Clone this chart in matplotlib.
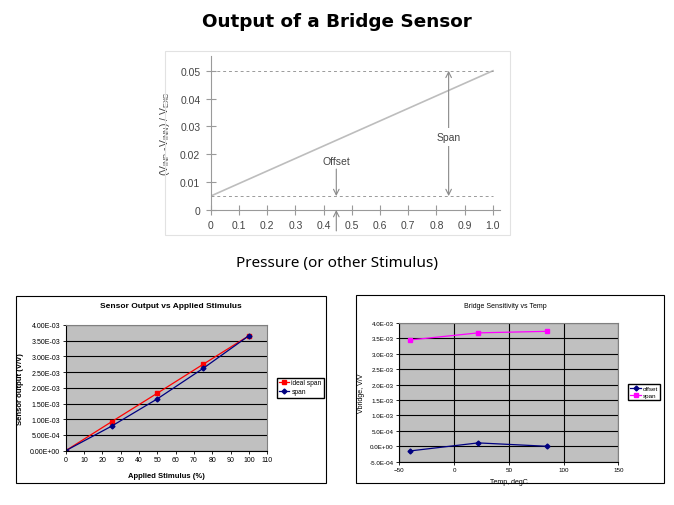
import matplotlib.pyplot as plt
from matplotlib.patches import Rectangle

W, H = 674, 506

# top schematic: normalised bridge output vs stimulus
stim_x = [0.0, 1.0]
stim_y = [0.005, 0.05]
offset_level = 0.005
full_scale = 0.05
top_xticks = [0, 0.1, 0.2, 0.3, 0.4, 0.5, 0.6, 0.7, 0.8, 0.9, 1.0]
top_xlabels = ['0', '0.1', '0.2', '0.3', '0.4', '0.5', '0.6', '0.7', '0.8', '0.9', '1.0']
top_yticks = [0, 0.01, 0.02, 0.03, 0.04, 0.05]
top_ylabels = ['0', '0.01', '0.02', '0.03', '0.04', '0.05']

# bottom left: sensor output vs applied stimulus
applied = [0, 25, 50, 75, 100]
ideal_span = [0.0, 9.2e-4, 1.83e-3, 2.75e-3, 3.66e-3]
real_span = [0.0, 7.8e-4, 1.65e-3, 2.62e-3, 3.66e-3]

# bottom right: bridge sensitivity vs temperature
temp = [-40, 22, 85]
offset_t = [-1.5e-4, 1.1e-4, 0.0]
span_t = [3.45e-3, 3.68e-3, 3.73e-3]


def px_axes(fig, x0, y0, x1, y1):
    """Add axes given pixel box (top-left origin)"""
    return fig.add_axes([x0 / W, 1 - y1 / H, (x1 - x0) / W, (y1 - y0) / H])


def px_rect(fig, x0, y0, x1, y1, color, lw):
    fig.patches.append(Rectangle((x0 / W, 1 - y1 / H), (x1 - x0) / W, (y1 - y0) / H,
                                 transform=fig.transFigure, fill=False,
                                 edgecolor=color, linewidth=lw))


plt.rcParams['font.family'] = ['Liberation Sans', 'DejaVu Sans']
plt.rcParams['mathtext.fontset'] = 'custom'
plt.rcParams['mathtext.rm'] = 'Liberation Sans'
plt.rcParams['mathtext.default'] = 'rm'
fig = plt.figure(figsize=(W / 100, H / 100), dpi=100)
fig.patch.set_facecolor('white')

fig.text(0.5, 1 - 22 / H, 'Output of a Bridge Sensor', ha='center', va='center',
         fontsize=13.2, fontweight='bold', family='DejaVu Sans')
fig.text(0.5, 1 - 263 / H, 'Pressure (or other Stimulus)', ha='center', va='center',
         fontsize=11, family='Noto Sans')

# ---- top schematic ----
px_rect(fig, 165, 52, 510, 236, '#e2e2e2', 0.8)
ax = px_axes(fig, 210.7, 57, 500, 211)
gray = '#9a9a9a'
ax.plot(stim_x, stim_y, color='#bdbdbd', lw=1.2)
ax.plot([0, 1.0], [full_scale, full_scale], color=gray, lw=0.7, ls=(0, (3, 3)))
ax.plot([0, 1.0], [offset_level, offset_level], color=gray, lw=0.7, ls=(0, (3, 3)))
arrow = dict(arrowstyle='->', color='#8a8a8a', lw=0.8, shrinkA=0, shrinkB=0)
ax.annotate('', xy=(0.445, offset_level), xytext=(0.445, 0.0147), arrowprops=arrow)
ax.annotate('', xy=(0.445, 0), xytext=(0.445, -0.0075), arrowprops=arrow,
            annotation_clip=False)
ax.text(0.445, 0.0177, 'Offset', ha='center', va='center', fontsize=7.5, color='#444')
ax.annotate('', xy=(0.843, full_scale), xytext=(0.843, offset_level),
            arrowprops=dict(arrowstyle='<->', color='#8a8a8a', lw=0.8, shrinkA=0, shrinkB=0))
ax.text(0.843, 0.0263, 'Span', ha='center', va='center', fontsize=7.5, color='#444',
        bbox=dict(facecolor='white', edgecolor='none', pad=3))
ax.set_xlim(0, 1.025)
ax.set_ylim(0, 0.0553)
ax.set_xticks(top_xticks, top_xlabels)
ax.set_yticks(top_yticks, top_ylabels)
ax.tick_params(direction='inout', length=7, width=0.8, color=gray,
               labelsize=7.5, labelcolor='#444', pad=4)
for s in ['top', 'right']:
    ax.spines[s].set_visible(False)
for s in ['left', 'bottom']:
    ax.spines[s].set_color(gray)
    ax.spines[s].set_linewidth(0.8)
ax.set_ylabel('(V$_{INP}$ -V$_{INN}$) / V$_{EXC}$', fontsize=7.5, color='#444', labelpad=6)
ax.set_facecolor('white')

# ---- bottom left ----
px_rect(fig, 16, 297, 326, 484, 'black', 0.8)
ax1 = px_axes(fig, 65.7, 326, 267.3, 451.7)
ax1.set_facecolor('#c0c0c0')
ax1.plot(applied, ideal_span, color='red', lw=0.9, marker='s', ms=3, label='ideal span')
ax1.plot(applied, real_span, color='#000080', lw=0.9, marker='D', ms=2.5, label='span')
ax1.set_xlim(0, 110)
ax1.set_ylim(0, 4e-3)
ax1.set_xticks(range(0, 111, 10))
yt = [i * 5e-4 for i in range(9)]
ax1.set_yticks(yt, ['%.2E' % v for v in yt])
ax1.grid(axis='y', color='black', lw=0.8)
ax1.set_axisbelow(True)
ax1.tick_params(length=2, width=0.6, labelsize=5, pad=2)
for s in ['top', 'right']:
    ax1.spines[s].set_color('#808080')
ax1.set_xlabel('Applied Stimulus (%)', fontsize=5.5, fontweight='bold', labelpad=6)
ax1.set_ylabel('Sensor output (V/V)', fontsize=5.5, fontweight='bold', labelpad=4)
fig.text(171 / W, 1 - 307 / H, 'Sensor Output vs Applied Stimulus', ha='center', va='center',
         fontsize=6, fontweight='bold')
ax1.legend(loc='center left', bbox_to_anchor=(276.7 / W, 1 - 388.5 / H),
           bbox_transform=fig.transFigure, fontsize=4.8, frameon=True, fancybox=False,
           edgecolor='black', framealpha=1, borderpad=0.3, handlelength=1.6,
           handletextpad=0.3, labelspacing=0.3, borderaxespad=0)

# ---- bottom right ----
px_rect(fig, 356, 296, 664, 484, 'black', 0.8)
ax2 = px_axes(fig, 399.3, 324, 618.3, 462.7)
ax2.set_facecolor('#c0c0c0')
ax2.plot(temp, offset_t, color='#000080', lw=0.9, marker='D', ms=2.5, label='offset')
ax2.plot(temp, span_t, color='#ff00ff', lw=0.9, marker='s', ms=3.5, label='span')
ax2.set_xlim(-50, 150)
ax2.set_ylim(-5e-4, 4e-3)
ax2.set_xticks([-50, 0, 50, 100, 150])
yt2 = [-5e-4 + i * 5e-4 for i in range(10)]
ax2.set_yticks(yt2, ['%.1E' % v for v in yt2])
ax2.grid(color='black', lw=0.8)
ax2.set_axisbelow(True)
ax2.tick_params(length=2, width=0.6, labelsize=4.5, pad=2)
for s in ['top', 'right']:
    ax2.spines[s].set_color('#808080')
ax2.set_xlabel('Temp, degC', fontsize=5, labelpad=4)
ax2.set_ylabel('Vbridge, V/V', fontsize=5, labelpad=3)
fig.text(505 / W, 1 - 307 / H, 'Bridge Sensitivity vs Temp', ha='center', va='center',
         fontsize=5)
ax2.legend(loc='center left', bbox_to_anchor=(628 / W, 1 - 393 / H),
           bbox_transform=fig.transFigure, fontsize=4.5, frameon=True, fancybox=False,
           edgecolor='black', framealpha=1, borderpad=0.3, handlelength=1.8,
           handletextpad=0.3, labelspacing=0.3, borderaxespad=0)

fig.savefig('out.png', dpi=100)
